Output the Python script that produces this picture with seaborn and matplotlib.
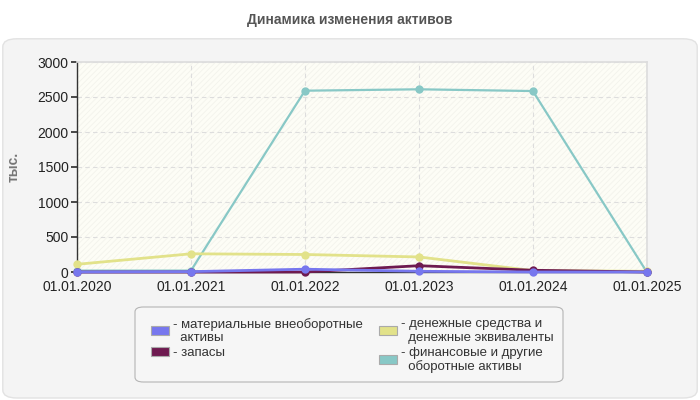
import pandas as pd
import numpy as np
import seaborn as sns
import matplotlib.pyplot as plt
from matplotlib.patches import FancyBboxPatch, Rectangle, Patch

dates = ['01.01.2020', '01.01.2021', '01.01.2022', '01.01.2023', '01.01.2024', '01.01.2025']
mat_assets = [0, 5, 40, 10, 0, 0]
stocks = [0, 0, 0, 90, 25, 0]
cash = [110, 260, 250, 215, 20, 10]
fin_assets = [20, 20, 2590, 2610, 2585, 0]

names = ['материальные внеоборотные\nактивы', 'запасы',
         'денежные средства и\nденежные эквиваленты', 'финансовые и другие\nоборотные активы']
colors = ['#7777ee', '#6e1a50', '#e2e28a', '#88c8c6']

df = pd.DataFrame({'x': list(range(len(dates))) * 4,
                   'value': mat_assets + stocks + cash + fin_assets,
                   'series': np.repeat(names, len(dates))})

sns.set_theme(style='white')
plt.rcParams['font.family'] = ['Liberation Sans', 'DejaVu Sans']
plt.rcParams['hatch.linewidth'] = 0.6

fig = plt.figure(figsize=(7, 4), dpi=100)
fig.patch.set_facecolor('white')

# outer panel
panel = FancyBboxPatch((0.004, 0.005), 0.992, 0.898, boxstyle='round,pad=0,rounding_size=0.02',
                       transform=fig.transFigure, facecolor='#f4f4f4', edgecolor='#e2e2e2', lw=1,
                       zorder=-10)
fig.patches.append(panel)
fig.text(0.5, 0.95, 'Динамика изменения активов', ha='center', va='center',
         fontsize=10, fontweight='bold', color='#555555')

ax = fig.add_axes([0.11, 0.32, 0.814, 0.525])
ax.set_facecolor('#fdfdf6')
ax.add_patch(Rectangle((0, 0), 1, 1, transform=ax.transAxes, facecolor='#fdfdf6',
                       edgecolor='#f3f3ec', hatch='//////', lw=0, zorder=0))

# teal first so the small series sit on top near zero
for i in [3, 2, 1, 0]:
    sub = df[df['series'] == names[i]]
    sns.lineplot(data=sub, x='x', y='value', color=colors[i], marker='o', markersize=6,
                 markeredgewidth=0, linewidth=2 if i != 3 else 1.6, ax=ax,
                 zorder=3 + (3 - i), clip_on=False)

ax.set_xlim(0, len(dates) - 1)
ax.set_ylim(0, 3000)
ax.set_xticks(range(len(dates)))
ax.set_xticklabels(dates)
ax.set_yticks(range(0, 3001, 500))
ax.set_xlabel('')
ax.set_ylabel('тыс.', fontsize=10, fontweight='bold', color='#777777', labelpad=12)
ax.tick_params(axis='both', labelsize=10, colors='#222222')
ax.tick_params(axis='y', left=True, length=4, color='#333333', pad=2)
ax.tick_params(axis='x', bottom=False, pad=0)
ax.grid(True, linestyle=(0, (4, 3)), color='#dddddd', linewidth=0.8)
ax.set_axisbelow(True)
for s in ['top', 'right']:
    ax.spines[s].set_color('#dddddd')
for s in ['left', 'bottom']:
    ax.spines[s].set_color('#333333')
    ax.spines[s].set_linewidth(1)

# legend box
lbox = FancyBboxPatch((135 / 700, 1 - 382 / 400), 428 / 700, 75 / 400,
                      boxstyle='round,pad=0,rounding_size=0.012', transform=fig.transFigure,
                      facecolor='#f6f6f6', edgecolor='#b5b5b5', lw=0.8, zorder=-5)
fig.patches.append(lbox)
handles = [Patch(facecolor=c, edgecolor='#aaaaaa', linewidth=0.8) for c in colors]
labels = ['- ' + n.replace('\n', '\n  ') for n in names]
fig.legend(handles, labels, ncol=2, loc='upper left', bbox_to_anchor=(144 / 700, 1 - 311 / 400),
           frameon=False, fontsize=9.5, handlelength=1.4, handleheight=0.7, handletextpad=0.3,
           columnspacing=1.2, labelspacing=0.2, borderpad=0, labelcolor='#333333')

fig.savefig('out.png', dpi=100)
